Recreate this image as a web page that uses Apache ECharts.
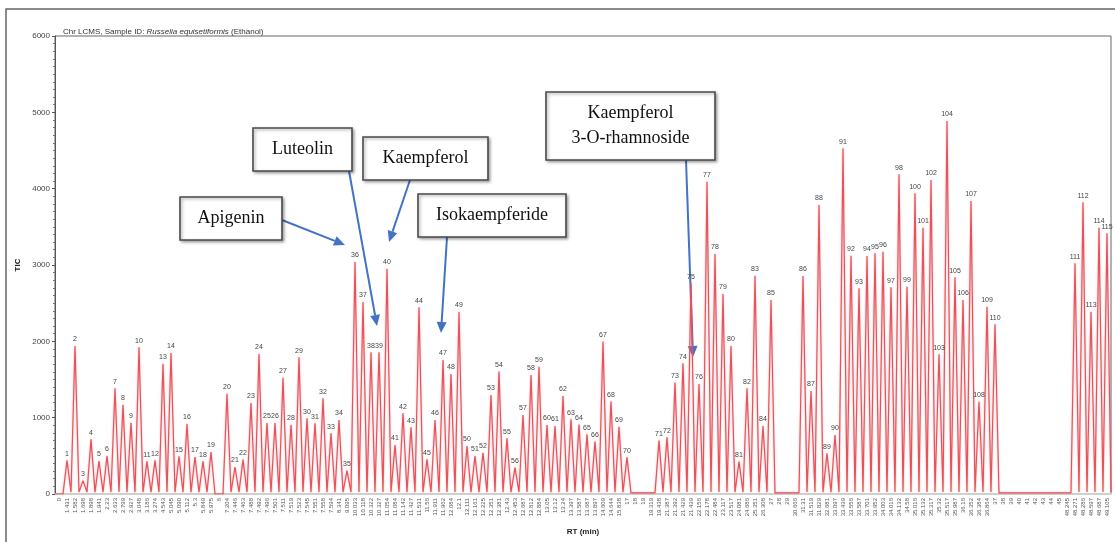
<!DOCTYPE html>
<html>
<head>
<meta charset="utf-8">
<title>Chr LCMS - Russelia equisetiformis</title>
<script src="https://cdn.jsdelivr.net/npm/echarts@6/dist/echarts.min.js"></script>
<style>
    html,body{margin:0;padding:0;background:#fff;}
    #chrmap{width:1115px;height:542px;}
</style>
</head>
<body>
<div id="chrmap"></div>
<script>
//************************* 数据 ******************************//
// x轴标签：每个位置一个保留时间，空位为整数分钟
var rtLabels = ['0',
    '1.431','1.582','1.698','1.898','1.941','2.23','2.633','2.799','2.927','3.048',
    '3.186','3.274','4.543','5.045','5.090','5.112','5.3','5.849','5.975',
    '6',
    '7.204','7.446','7.463','7.488','7.492','7.496','7.501','7.511','7.519','7.523',
    '7.545','7.551','7.558','7.594','8.341','9.095','10.033','10.118','10.322','10.327',
    '11.054','11.084','11.142','11.427','11.531','11.56','11.911','11.962','12.084','12.1',
    '12.111','12.161','12.225','12.351','12.381','12.43','12.453','12.687','12.812','12.884',
    '13.05','13.12','13.24','13.397','13.587','13.687','13.897','14.609','14.644','15.838',
    '17','18','19',
    '19.319','19.438','21.387','21.392','21.429','21.439','22.156','22.178','22.484','23.117',
    '23.517','24.081','24.686','25.351','26.308',
    '27','28','29',
    '30.666','31.31','31.519','31.829','32.681','33.097','33.439','33.556','33.587','33.701',
    '33.952','34.003','34.016','34.132','34.58','35.016','35.132','35.317','35.32','35.517',
    '35.987','36.16','36.352','36.384','36.864',
    '37','38','39','40','41','42','43','44','45',
    '48.245','48.271','48.286','48.597','48.687','49.105'];

// 峰编号，与 rtLabels 一一对应，空位为 ''
var peakIds = ['',
    '1','2','3','4','5','6','7','8','9','10','11','12','13','14','15','16','17','18','19',
    '',
    '20','21','22','23','24','25','26','27','28','29','30','31','32','33','34','35','36','37','38','39',
    '40','41','42','43','44','45','46','47','48','49','50','51','52','53','54','55','56','57','58','59',
    '60','61','62','63','64','65','66','67','68','69','70',
    '','','',
    '71','72','73','74','75','76','77','78','79','80','81','82','83','84','85',
    '','','',
    '86','87','88','89','90','91','92','93','94','95','96','97','98','99','100',
    '101','102','103','104','105','106','107','108','109','110',
    '','','','','','','','','',
    '111','112','113','114','115','118'];

// TIC 值（峰高，空位为基线）
var ticValues = [0,
    440,1940,175,716,432,498,1384,1170,934,1921,428,441,1707,1847,493,917,485,428,550,
    0,
    1314,354,450,1192,1834,930,930,1524,908,1790,991,926,1253,795,969,306,3040,2515,1856,1856,
    2950,642,1057,873,2445,454,969,1755,1572,2385,629,498,541,1297,1603,729,345,1035,1559,1668,
    904,891,1284,978,910,782,686,1996,1210,882,480,
    15,15,15,
    699,742,1459,1712,2760,1441,4091,3144,2620,1939,424,1384,2860,891,2541,
    15,15,15,
    2856,1349,3786,533,773,4529,3122,2695,3118,3153,3174,2708,4188,2716,3939,
    3489,4113,1830,4886,2838,2541,3838,1209,2454,2223,
    15,15,15,15,15,15,15,15,15,
    3022,3821,2388,3489,3415,4179];

// 峰间谷底
var VALLEY = 25;

//************************* 渲染色谱图 ******************************//
function buildLine(){
    var n = rtLabels.length;
    var data = [];
    function edge(i){
        var a = i - 1 < 0 ? 0 : (peakIds[i-1] ? VALLEY : ticValues[i-1]);
        var b = i >= n ? VALLEY : (peakIds[i] ? VALLEY : ticValues[i]);
        return Math.min(a, b);
    }
    for(var i=0; i<=n; i++){
        data.push({value:[i, edge(i)]});
        if(i < n){
            var item = {value:[i + 0.5, ticValues[i]]};
            if(peakIds[i]){
                item.label = {show:true, formatter:peakIds[i]};
            }
            data.push(item);
        }
    }
    return data;
}

// 注释框
function noteBox(x, y, w, h, text){
    return {
        type:'group',
        silent:true,
        children:[{
            type:'rect',
            shape:{x:x, y:y, width:w, height:h},
            style:{fill:'#fff', stroke:'#4a4a4a', lineWidth:1.6,
                shadowBlur:3, shadowColor:'rgba(0,0,0,0.35)', shadowOffsetX:1.5, shadowOffsetY:1.5}
        },{
            type:'text',
            style:{x:x + w/2, y:y + h/2, text:text, align:'center', verticalAlign:'middle',
                fontSize:18, fontFamily:'"Liberation Serif", serif', fill:'#111', lineHeight:25}
        }]
    };
}

// 蓝色箭头
function arrow(x1, y1, x2, y2){
    var dx = x2 - x1, dy = y2 - y1;
    var len = Math.sqrt(dx*dx + dy*dy);
    var ux = dx/len, uy = dy/len;
    var hl = 11, hw = 5;
    var bx = x2 - ux*hl, by = y2 - uy*hl;
    return {
        type:'group',
        silent:true,
        children:[{
            type:'line',
            shape:{x1:x1, y1:y1, x2:bx, y2:by},
            style:{stroke:'#4472c4', lineWidth:2}
        },{
            type:'polygon',
            shape:{points:[[x2, y2], [bx - uy*hw, by + ux*hw], [bx + uy*hw, by - ux*hw]]},
            style:{fill:'#4472c4'}
        }]
    };
}

function chrMap(){
    var myChart = echarts.init(document.getElementById('chrmap'));
    var n = rtLabels.length;

    var option = {
        animation:false,
        backgroundColor:'#fff',
        title:{
            text:'{a|Chr LCMS, Sample ID: }{b|Russelia equisetiformis}{a| (Ethanol)}',
            left:58,
            top:23,
            textStyle:{
                fontWeight:'normal',
                rich:{
                    a:{fontSize:8, color:'#333', fontWeight:'normal', fontFamily:'Liberation Sans'},
                    b:{fontSize:8, color:'#333', fontWeight:'normal', fontFamily:'Liberation Sans', fontStyle:'italic'}
                }
            }
        },
        grid:{
            left:55,
            right:4,
            top:36,
            bottom:48,
            show:true,
            borderColor:'#666',
            borderWidth:1
        },
        xAxis:[{
            type:'category',
            data:rtLabels,
            boundaryGap:true,
            name:'RT (min)',
            nameLocation:'middle',
            nameGap:34,
            nameTextStyle:{fontSize:8, fontWeight:'bold', color:'#222'},
            axisLine:{lineStyle:{color:'#cfcfcf', width:2}},
            axisTick:{show:false},
            axisLabel:{interval:0, rotate:90, fontSize:6, color:'#555', margin:4}
        },{
            type:'value',
            min:0,
            max:n,
            show:false
        }],
        yAxis:{
            type:'value',
            min:0,
            max:6000,
            interval:1000,
            name:'TIC',
            nameLocation:'middle',
            nameGap:24,
            nameTextStyle:{fontSize:8, fontWeight:'bold', color:'#222'},
            axisLine:{show:true, lineStyle:{color:'#555'}},
            axisTick:{show:true, length:3, lineStyle:{color:'#555'}},
            minorTick:{show:true, splitNumber:10, length:2, lineStyle:{color:'#777'}},
            splitLine:{show:false},
            axisLabel:{fontSize:8, color:'#444', margin:5, formatter:function(v){ return String(v); }}
        },
        series:[{
            type:'line',
            xAxisIndex:1,
            data:buildLine(),
            symbol:'circle',
            symbolSize:0.1,
            showSymbol:true,
            lineStyle:{color:'#e8525a', width:1.2, shadowBlur:2, shadowColor:'rgba(232,82,90,0.45)'},
            itemStyle:{color:'#e8525a'},
            label:{show:false, position:'top', distance:3, fontSize:7, color:'#444'},
            z:2
        }],
        graphic:[
            {type:'rect', silent:true, shape:{x:6, y:9, width:1130, height:560},
                style:{fill:'none', stroke:'#666', lineWidth:1.5}},
            arrow(282, 220, 345, 245),
            arrow(349, 171, 377, 326),
            arrow(410, 180, 389, 242),
            arrow(447, 237, 441, 333),
            arrow(686, 160, 693, 357),
            noteBox(180, 197, 102, 43, 'Apigenin'),
            noteBox(253, 128, 99, 43, 'Luteolin'),
            noteBox(363, 137, 125, 43, 'Kaempferol'),
            noteBox(418, 194, 148, 43, 'Isokaempferide'),
            noteBox(546, 92, 169, 68, 'Kaempferol\n3-O-rhamnoside')
        ]
    };

    myChart.setOption(option);
    //页面缩放图表自适应
    window.onresize = myChart.resize;
}

chrMap();
</script>
</body>
</html>
